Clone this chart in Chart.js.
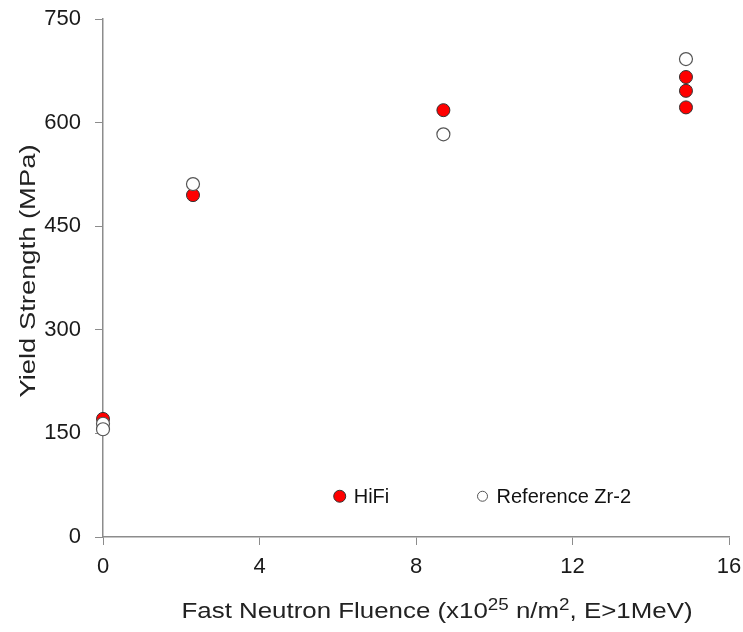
<!DOCTYPE html>
<html>
<head>
<meta charset="utf-8">
<script src="https://cdn.jsdelivr.net/npm/chart.js@4.4.0/dist/chart.umd.min.js"></script>
<style>
  html, body { margin: 0; padding: 0; background: #fff; }
  #wrap { width: 743px; height: 632px; position: relative; }
</style>
</head>
<body>
<div id="wrap"><canvas id="ysChart" width="743" height="632"></canvas></div>
<script>
// fluence (x10^25 n/m2) and yield strength (MPa)
const hifiFluence = [0, 2.3, 8.7, 14.9, 14.9, 14.9];
const hifiYield = [171, 495, 618, 666, 646, 622];
const refFluence = [0, 0, 2.3, 8.7, 14.9];
const refYield = [164, 156, 511, 583, 692];

const xTicks = [0, 4, 8, 12, 16];
const yTicks = [0, 150, 300, 450, 600, 750];

const legendItems = [
    { label: "HiFi", fill: "#ff0000", border: "#333333", r: 6, x: 6.05, y: 59 },
    { label: "Reference Zr-2", fill: "#ffffff", border: "#555555", r: 5, x: 9.7, y: 59 }
];

const FONT = "'Liberation Sans', Arial, sans-serif";
const AXIS = "#8c8c8c";

function toPoints(xs, ys) {
    return xs.map((x, i) => ({ x: x, y: ys[i] }));
}

// draws pieces of text [str, isSuperscript] stretched to a given width, centred at 0
function drawStretched(ctx, parts, size, supSize, width, supRise) {
    let total = 0;
    parts.forEach((p) => {
        ctx.font = (p[1] ? supSize : size) + "px " + FONT;
        total += ctx.measureText(p[0]).width;
    });
    const k = width / total;
    ctx.scale(k, 1);
    let cx = -total / 2;
    ctx.textAlign = "left";
    parts.forEach((p) => {
        ctx.font = (p[1] ? supSize : size) + "px " + FONT;
        ctx.fillText(p[0], cx, p[1] ? -supRise : 0);
        cx += ctx.measureText(p[0]).width;
    });
}

// custom legend inside the plot + axis titles
const extras = {
    id: "extras",
    afterDraw(chart) {
        const ctx = chart.ctx;
        const xs = chart.scales.x;
        const ys = chart.scales.y;
        ctx.save();
        ctx.font = "20px " + FONT;
        ctx.textBaseline = "middle";
        legendItems.forEach((it) => {
            const px = xs.getPixelForValue(it.x);
            const py = ys.getPixelForValue(it.y);
            ctx.beginPath();
            ctx.arc(px, py, it.r, 0, Math.PI * 2);
            ctx.fillStyle = it.fill;
            ctx.fill();
            ctx.lineWidth = 1;
            ctx.strokeStyle = it.border;
            ctx.stroke();
            ctx.fillStyle = "#111";
            ctx.textAlign = "left";
            ctx.fillText(it.label, px + 14, py + 1);
        });
        ctx.restore();

        // y title
        ctx.save();
        ctx.fillStyle = "#222";
        ctx.textBaseline = "alphabetic";
        ctx.translate(35, 271);
        ctx.rotate(-Math.PI / 2);
        drawStretched(ctx, [["Yield Strength (MPa)", false]], 22, 22, 253, 0);
        ctx.restore();

        // x title with superscripts
        ctx.save();
        ctx.fillStyle = "#222";
        ctx.textBaseline = "alphabetic";
        ctx.translate(437, 618);
        drawStretched(ctx, [
            ["Fast Neutron Fluence (x10", false],
            ["25", true],
            [" n/m", false],
            ["2", true],
            [", E>1MeV)", false]
        ], 22, 16, 511, 8);
        ctx.restore();
    }
};

const ctx = document.getElementById("ysChart").getContext("2d");
new Chart(ctx, {
    type: "scatter",
    data: {
        datasets: [
            {
                label: "HiFi",
                data: toPoints(hifiFluence, hifiYield),
                backgroundColor: "#ff0000",
                borderColor: "#333333",
                borderWidth: 1,
                pointRadius: 6.5,
                pointHoverRadius: 6.5,
                order: 1
            },
            {
                label: "Reference Zr-2",
                data: toPoints(refFluence, refYield),
                backgroundColor: "#ffffff",
                borderColor: "#555555",
                borderWidth: 1.2,
                pointRadius: 6.5,
                pointHoverRadius: 6.5,
                order: 0
            }
        ]
    },
    options: {
        responsive: false,
        animation: false,
        clip: false,
        layout: { padding: { top: 19, right: 14, left: 0, bottom: 0 } },
        plugins: {
            legend: { display: false },
            tooltip: { enabled: false }
        },
        scales: {
            x: {
                type: "linear",
                min: 0,
                max: 16,
                afterBuildTicks: (s) => { s.ticks = xTicks.map((v) => ({ value: v })); },
                afterFit: (s) => { s.height = 95; s.paddingLeft = 0; s.paddingRight = 0; },
                border: { display: true, color: AXIS, width: 1.5 },
                grid: { display: true, drawOnChartArea: false, drawTicks: true, tickLength: 8, color: AXIS },
                ticks: { color: "#1a1a1a", font: { family: FONT, size: 22 }, padding: 9, maxRotation: 0 }
            },
            y: {
                type: "linear",
                min: 0,
                max: 750,
                afterBuildTicks: (s) => { s.ticks = yTicks.map((v) => ({ value: v })); },
                afterFit: (s) => { s.width = 103; s.paddingTop = 0; s.paddingBottom = 0; },
                border: { display: true, color: AXIS, width: 1.5 },
                grid: { display: true, drawOnChartArea: false, drawTicks: true, tickLength: 8, color: AXIS },
                ticks: { color: "#1a1a1a", font: { family: FONT, size: 22 }, padding: 14 }
            }
        }
    },
    plugins: [extras]
});
</script>
</body>
</html>
